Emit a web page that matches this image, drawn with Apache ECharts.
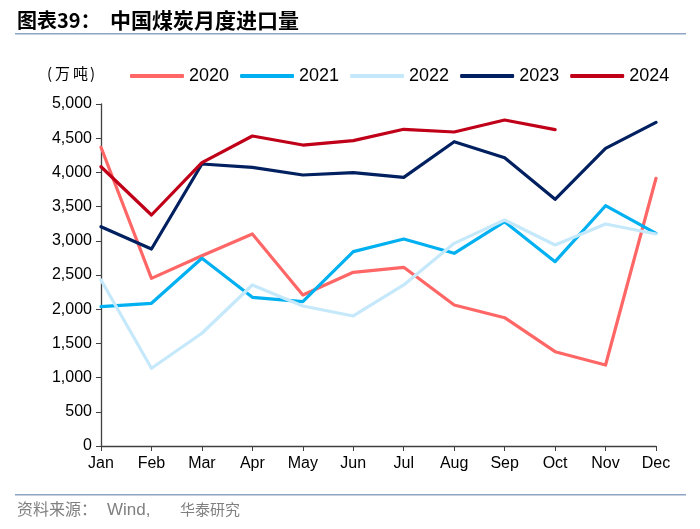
<!DOCTYPE html>
<html><head><meta charset="utf-8">
<script src="https://cdn.jsdelivr.net/npm/echarts@6/dist/echarts.min.js"></script>
<style>html,body{margin:0;padding:0;background:#fff}#c{width:700px;height:529px}</style>
</head><body><div id="c"></div>
<script>
const months = ['Jan','Feb','Mar','Apr','May','Jun','Jul','Aug','Sep','Oct','Nov','Dec'];
const yTicks = [0,500,1000,1500,2000,2500,3000,3500,4000,4500,5000];
const s2020 = [4367,2451,2782,3100,2208,2539,2612,2061,1876,1379,1184,3914];
const s2021 = [2037,2086,2744,2174,2110,2841,3026,2817,3279,2695,3513,3109];
const s2022 = [2427,1136,1648,2354,2047,1901,2354,2963,3304,2939,3246,3100];
const s2023 = [3206,2880,4123,4074,3962,3996,3928,4449,4215,3606,4352,4732];
const s2024 = [4083,3377,4142,4532,4400,4464,4630,4591,4766,4625];
const names = ['2020','2021','2022','2023','2024'];
const colors = ['#FF6666','#00B0F0','#C5E9FB','#002060','#C00018'];
const data = [s2020,s2021,s2022,s2023,s2024];

const chart = echarts.init(document.getElementById('c'));
const font = 'Liberation Sans, Arial, sans-serif';
const cjk = '"Noto Sans CJK SC", sans-serif';
chart.setOption({
  animation:false,
  textStyle:{fontFamily:font},
  grid:{left:101,right:44,top:104,bottom:83,containLabel:false},
  legend:{
    data:names, left:125, top:62, icon:'roundRect', itemWidth:54, itemHeight:4,
    itemGap:11, textStyle:{fontSize:18,color:'#000',fontFamily:font}
  },
  xAxis:{
    type:'category', data:months, boundaryGap:false,
    axisLine:{lineStyle:{color:'#404040',width:1.3}},
    axisTick:{show:true,alignWithLabel:true,length:5,lineStyle:{color:'#404040'}},
    axisLabel:{color:'#000',fontSize:16,margin:10,fontFamily:font,interval:0}
  },
  yAxis:{
    type:'value', min:yTicks[0], max:yTicks[yTicks.length-1], interval:500,
    splitLine:{show:false},
    axisLine:{show:true,lineStyle:{color:'#404040',width:1.3}},
    axisTick:{show:true,length:5,lineStyle:{color:'#404040'}},
    axisLabel:{color:'#000',fontSize:16,margin:9,fontFamily:font,
      formatter:v=>v.toLocaleString('en-US')}
  },
  series: names.map((n,i)=>({
    name:n, type:'line', data:data[i], showSymbol:false, symbol:'none',
    lineStyle:{color:colors[i],width:3.2,cap:'round',join:'round'},
    itemStyle:{color:colors[i]}, z:i+2
  })),
  graphic:[
    {type:'text',left:17,top:10,style:{text:'图表39：',font:'bold 20px '+cjk,fill:'#000'}},
    {type:'text',left:110,top:10,style:{text:'中国煤炭月度进口量',font:'bold 21px '+cjk,fill:'#000'}},
    {type:'rect',shape:{x:15,y:33,width:671,height:1.5},style:{fill:'#8EA6C6'}},
    {type:'text',left:47,top:66,style:{text:'(',font:'15px '+cjk,fill:'#000'}},
    {type:'text',left:55,top:66,style:{text:'万',font:'15px '+cjk,fill:'#000'}},
    {type:'text',left:73,top:66,style:{text:'吨',font:'15px '+cjk,fill:'#000'}},
    {type:'text',left:90,top:66,style:{text:')',font:'15px '+cjk,fill:'#000'}},
    {type:'rect',shape:{x:15,y:494,width:671,height:1.5},style:{fill:'#8EA6C6'}},
    {type:'text',left:17,top:501,style:{text:'资料来源：',font:'16px '+cjk,fill:'#808080'}},
    {type:'text',left:107,top:502,style:{text:'Wind,',font:'17px '+font,fill:'#808080'}},
    {type:'text',left:180,top:502,style:{text:'华泰研究',font:'15px '+cjk,fill:'#808080'}}
  ]
});
</script></body></html>
